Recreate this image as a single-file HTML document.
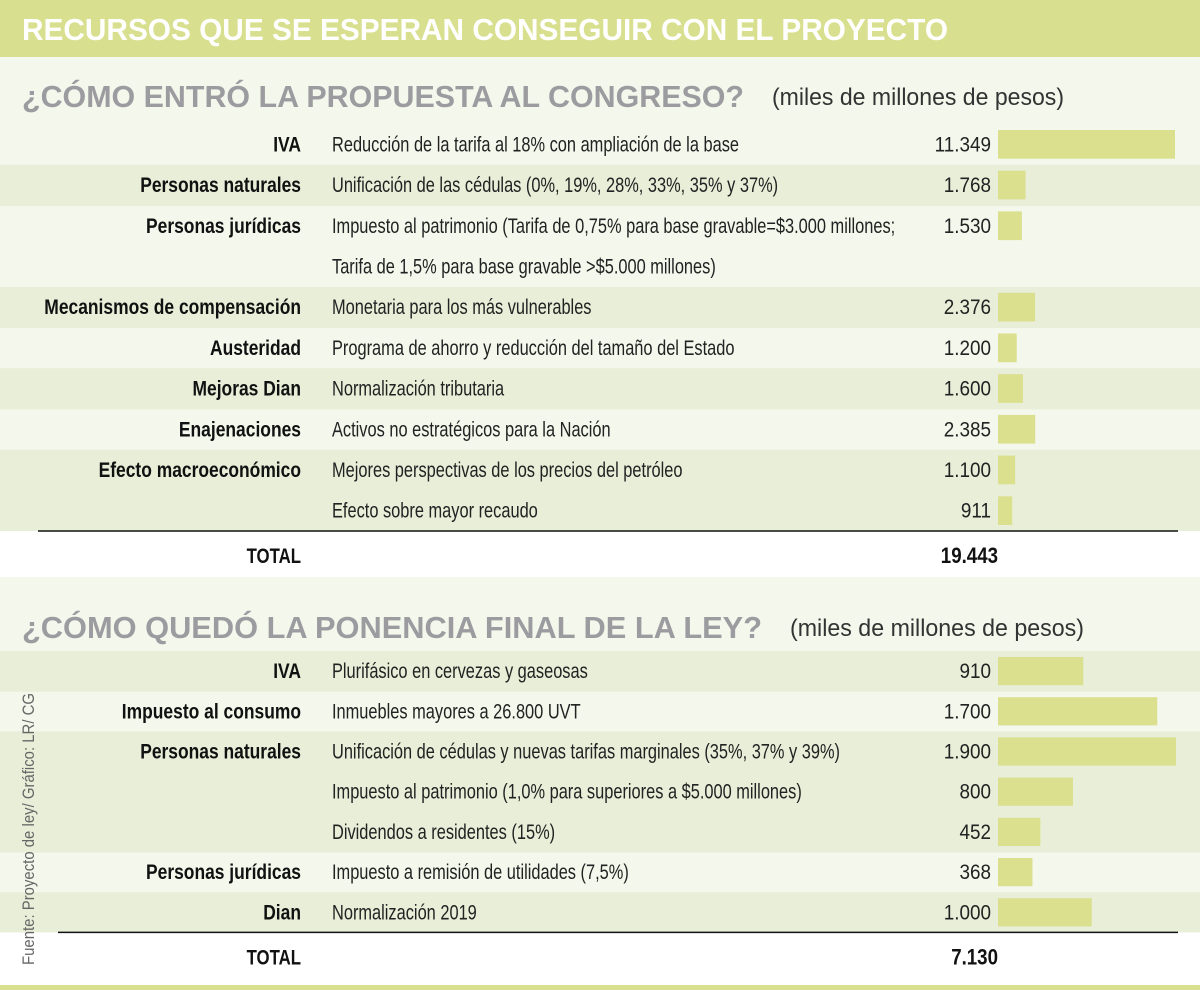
<!DOCTYPE html>
<html><head><meta charset="utf-8">
<style>
html,body{margin:0;padding:0;background:#f4f7ec;}
svg{display:block;}
text{font-family:"Liberation Sans",sans-serif;}
</style></head>
<body>
<svg id="chart" width="1200" height="990" viewBox="0 0 1200 990" xmlns="http://www.w3.org/2000/svg">
  <rect x="0" y="0" width="1200" height="990" fill="#f4f7ec"/>
  <rect x="0" y="0" width="1200" height="57" fill="#d8df8e"/>
  <text x="22" y="40" font-size="31" font-weight="bold" fill="#ffffff" textLength="926" lengthAdjust="spacingAndGlyphs">RECURSOS QUE SE ESPERAN CONSEGUIR CON EL PROYECTO</text>
  <text x="22" y="107" font-size="31" font-weight="bold" fill="#9c9ca0" textLength="722" lengthAdjust="spacingAndGlyphs">¿CÓMO ENTRÓ LA PROPUESTA AL CONGRESO?</text>
  <text x="772" y="105" font-size="24" fill="#333" textLength="292" lengthAdjust="spacingAndGlyphs">(miles de millones de pesos)</text>
  <text x="22" y="638" font-size="31" font-weight="bold" fill="#9c9ca0" textLength="740" lengthAdjust="spacingAndGlyphs">¿CÓMO QUEDÓ LA PONENCIA FINAL DE LA LEY?</text>
  <text x="790" y="636" font-size="24" fill="#333" textLength="294" lengthAdjust="spacingAndGlyphs">(miles de millones de pesos)</text>
  <g id="rows"></g>
  <text transform="translate(34,965) rotate(-90)" font-size="17" fill="#666" textLength="272" lengthAdjust="spacingAndGlyphs">Fuente: Proyecto de ley/ Gráfico: LR/ CG</text>
  <rect x="0" y="985" width="1200" height="5" fill="#d8df8e"/>
</svg>
<script>
// Section 1 data
const s1Categories = ["IVA","Personas naturales","Personas jurídicas","","Mecanismos de compensación","Austeridad","Mejoras Dian","Enajenaciones","Efecto macroeconómico",""];
const s1Descriptions = ["Reducción de la tarifa al 18% con ampliación de la base","Unificación de las cédulas (0%, 19%, 28%, 33%, 35% y 37%)","Impuesto al patrimonio (Tarifa de 0,75% para base gravable=$3.000 millones;","Tarifa de 1,5% para base gravable >$5.000 millones)","Monetaria para los más vulnerables","Programa de ahorro y reducción del tamaño del Estado","Normalización tributaria","Activos no estratégicos para la Nación","Mejores perspectivas de los precios del petróleo","Efecto sobre mayor recaudo"];
const s1Values = [11349,1768,1530,null,2376,1200,1600,2385,1100,911];
const s1Bands = [0,1,0,0,1,0,1,0,1,1];
const s1Total = "19.443";
// Section 2 data
const s2Categories = ["IVA","Impuesto al consumo","Personas naturales","","","Personas jurídicas","Dian"];
const s2Descriptions = ["Plurifásico en cervezas y gaseosas","Inmuebles mayores a 26.800 UVT","Unificación de cédulas y nuevas tarifas marginales (35%, 37% y 39%)","Impuesto al patrimonio (1,0% para superiores a $5.000 millones)","Dividendos a residentes (15%)","Impuesto a remisión de utilidades (7,5%)","Normalización 2019"];
const s2Values = [910,1700,1900,800,452,368,1000];
const s2Bands = [1,0,1,1,1,0,1];
const s2Total = "7.130";

const NS="http://www.w3.org/2000/svg";
const g=document.getElementById('rows');
function mk(tag,attrs,txt){const e=document.createElementNS(NS,tag);for(const k in attrs)e.setAttribute(k,attrs[k]);if(txt!==undefined)e.textContent=txt;g.appendChild(e);return e;}
function squeeze(e,f){const w=e.getComputedTextLength();e.setAttribute('textLength',(w*f).toFixed(1));e.setAttribute('lengthAdjust','spacingAndGlyphs');}
function fmt(v){return v.toLocaleString('de-DE');}
function section(cats,descs,vals,bands,total,top,rowH,scaleMax,scaleW,lineX,totalH,prefix){
  const x=v=>v/scaleMax*scaleW;
  for(let i=0;i<descs.length;i++){
    const y=top+i*rowH;
    if(bands[i]){
      const b=mk('rect',{x:0,y:y,width:1200,height:rowH+0.5,fill:'#e8eed8'});
      
      
    }
  }
  for(let i=0;i<descs.length;i++){
    const y=top+i*rowH, ty=y+rowH/2+7;
    if(cats[i]){
      const c=mk('text',{x:301,y:ty,'font-size':21,'font-weight':'bold','text-anchor':'end',fill:'#111'},cats[i]);
      
      
      squeeze(c,0.83);
    }
    const d=mk('text',{x:332,y:ty,'font-size':21,fill:'#222'},descs[i]);
    
    
    squeeze(d,0.78);
    if(vals[i]!=null){
      const n=mk('text',{x:991,y:ty,'font-size':21,'text-anchor':'end',fill:'#222'},fmt(vals[i]));
      
      
      squeeze(n,0.9);
      const r=mk('rect',{x:998,y:y+6,width:x(vals[i]),height:rowH-12,fill:'#dbe08e'});
      
      
    }
  }
  const ly=top+descs.length*rowH;
  const w=mk('rect',{x:0,y:ly,width:1200,height:totalH,fill:'#ffffff'});
  
  
  const l=mk('line',{x1:lineX,y1:ly,x2:1178,y2:ly,stroke:'#111','stroke-width':1.5});
  
  
  const t=mk('text',{x:301,y:ly+32,'font-size':21,'font-weight':'bold','text-anchor':'end',fill:'#111'},'TOTAL');
  
  
  squeeze(t,0.8);
  const tv=mk('text',{x:998,y:ly+32,'font-size':22,'font-weight':'bold','text-anchor':'end',fill:'#111'},total);
  
  
  squeeze(tv,0.85);
}
section(s1Categories,s1Descriptions,s1Values,s1Bands,s1Total,124,40.7,11349,177,38,46,'s1');
section(s2Categories,s2Descriptions,s2Values,s2Bands,s2Total,651,40.2,1900,178,58,53,'s2');
</script>
</body></html>
